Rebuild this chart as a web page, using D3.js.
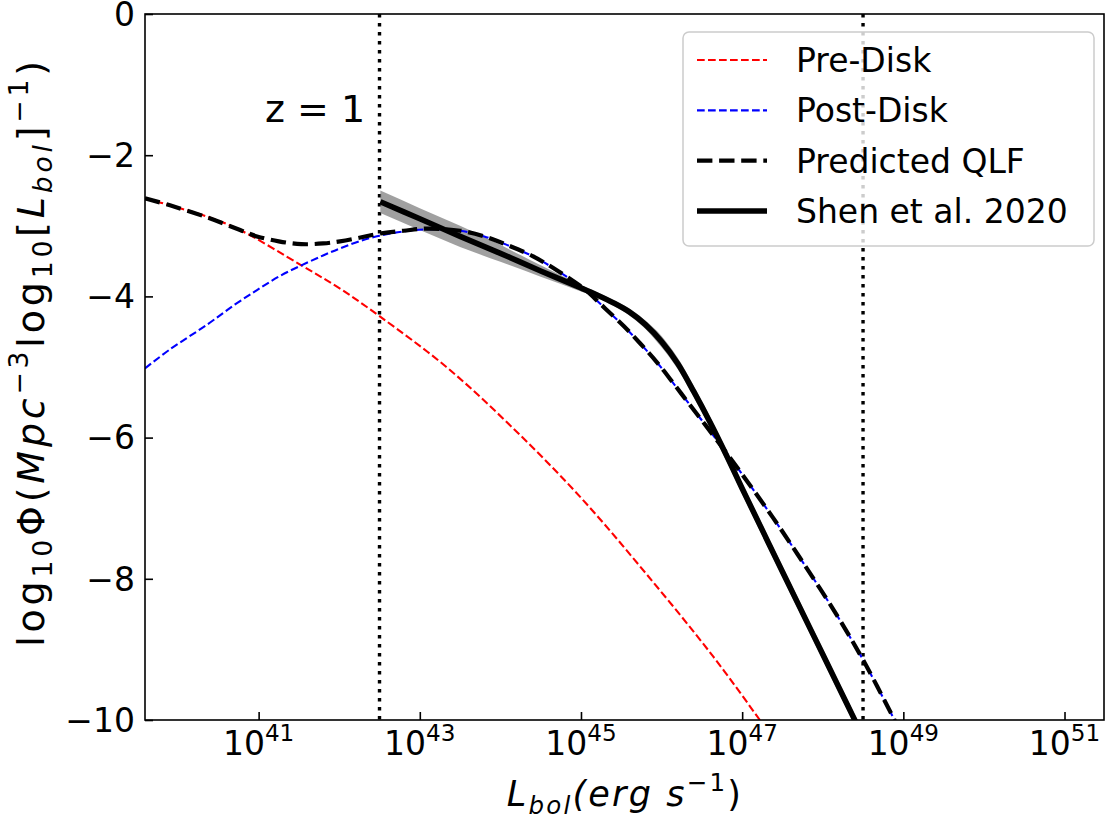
<!DOCTYPE html>
<html>
<head>
<meta charset="utf-8">
<script src="https://cdn.jsdelivr.net/npm/d3@7"></script>
<style>
  body { margin: 0; background: #fff; }
  text { font-family: "DejaVu Sans", sans-serif; fill: #000; }
</style>
</head>
<body>
<div id="chart"></div>
<script>
// values (x = log10 L_bol, y = log10 Phi)
const preDiskL = [39.59, 39.9, 40.36, 40.77, 41.53, 42.01, 42.5, 43.33, 44.16, 44.99, 45.81, 46.64, 47.22, 47.4];
const preDiskPhi = [-2.61, -2.71, -2.87, -3.06, -3.56, -3.89, -4.28, -5.0, -5.87, -6.84, -7.93, -9.10, -10.0, -10.28];

const postDiskL = [39.59, 39.9, 40.36, 40.7, 40.98, 41.25, 41.53, 41.8, 42.01, 42.25, 42.5, 42.8, 43.08, 43.5, 43.8, 44.08, 44.4, 44.7, 45.07, 45.19, 45.3, 45.53, 45.73, 45.94, 46.14, 46.36, 46.55, 46.74, 46.84, 47.05, 47.38, 47.79, 48.21, 48.52, 48.89, 49.0];
const postDiskPhi = [-5.02, -4.75, -4.40, -4.12, -3.91, -3.72, -3.56, -3.42, -3.32, -3.22, -3.14, -3.08, -3.05, -3.07, -3.15, -3.27, -3.43, -3.63, -3.92, -4.05, -4.17, -4.42, -4.66, -4.93, -5.22, -5.55, -5.83, -6.12, -6.27, -6.60, -7.13, -7.83, -8.58, -9.19, -10.0, -10.25];

const qlfL = [39.59, 39.9, 40.36, 40.77, 40.98, 41.25, 41.53, 41.8, 42.01, 42.25, 42.5, 42.8, 43.08, 43.5, 43.8, 44.08, 44.4, 44.7, 45.07, 45.19, 45.3, 45.53, 45.73, 45.94, 46.14, 46.36, 46.55, 46.74, 46.84, 47.05, 47.38, 47.79, 48.21, 48.52, 48.89, 49.0];
const qlfPhi = [-2.61, -2.71, -2.88, -3.06, -3.15, -3.22, -3.26, -3.25, -3.22, -3.17, -3.11, -3.07, -3.04, -3.07, -3.15, -3.27, -3.43, -3.63, -3.92, -4.05, -4.17, -4.42, -4.66, -4.93, -5.22, -5.55, -5.83, -6.12, -6.27, -6.60, -7.13, -7.83, -8.58, -9.19, -10.0, -10.25];

const shenL = [42.51, 43.0, 43.5, 44.0, 44.5, 45.0, 45.2, 45.4, 45.6, 45.8, 46.0, 46.2, 46.4, 46.6, 46.8, 47.0, 47.5, 48.0, 48.5];
const shenPhi = [-2.66, -2.90, -3.15, -3.39, -3.64, -3.88, -3.98, -4.09, -4.22, -4.40, -4.64, -4.95, -5.35, -5.78, -6.24, -6.72, -7.90, -9.07, -10.24];
const shenHi = [-2.50, -2.75, -3.00, -3.27, -3.56, -3.84, -3.94, -4.05, -4.17, -4.34, -4.56, -4.87, -5.27, -5.70, -6.16, -6.64, -7.82, -8.99, -10.16];
const shenLo = [-2.82, -3.06, -3.30, -3.51, -3.72, -3.93, -4.02, -4.13, -4.27, -4.46, -4.72, -5.03, -5.43, -5.86, -6.32, -6.80, -7.98, -9.15, -10.32];

const cutoffs = [42.5, 48.5];
const xTicks = [41, 43, 45, 47, 49, 51];
const yTicks = [0, -2, -4, -6, -8, -10];
const legendLabels = ["Pre-Disk", "Post-Disk", "Predicted QLF", "Shen et al. 2020"];

const W = 1105, H = 819;
const m = { left: 145, right: 1104, top: 14, bottom: 720 };

const svg = d3.select("#chart").append("svg")
  .attr("width", W).attr("height", H)
  .attr("viewBox", `0 0 ${W} ${H}`);

const x = d3.scaleLinear().domain([39.59, 51.49]).range([m.left, m.right]);
const y = d3.scaleLinear().domain([-10, 0]).range([m.bottom, m.top]);

svg.append("defs").append("clipPath").attr("id", "plotClip")
  .append("rect")
  .attr("x", m.left).attr("y", m.top)
  .attr("width", m.right - m.left).attr("height", m.bottom - m.top);

const plot = svg.append("g").attr("clip-path", "url(#plotClip)");

// vertical dotted lines
plot.selectAll("line.cut")
  .data(cutoffs)
  .join("line")
  .attr("class", "cut")
  .attr("x1", d => x(d)).attr("x2", d => x(d))
  .attr("y1", m.top).attr("y2", m.bottom)
  .attr("stroke", "#000")
  .attr("stroke-width", 3.4)
  .attr("stroke-dasharray", "3.4,5.6");

const zip = (xs, ys) => xs.map((v, i) => [v, ys[i]]);
const line = d3.line().x(d => x(d[0])).y(d => y(d[1])).curve(d3.curveCatmullRom.alpha(0.5));

const series = [
  { pts: zip(preDiskL, preDiskPhi), color: "#ff0000", w: 2.1, dash: "7.7,3.3" },
  { pts: zip(postDiskL, postDiskPhi), color: "#0000ff", w: 2.1, dash: "7.7,3.3" },
  { pts: zip(qlfL, qlfPhi), color: "#000", w: 4.2, dash: "15.4,6.7" }
];

// Shen band
const band = shenL.map((v, i) => ({ l: v, hi: shenHi[i], lo: shenLo[i] }));
plot.append("path")
  .datum(band)
  .attr("fill", "#808080")
  .attr("fill-opacity", 0.75)
  .attr("d", d3.area()
    .x(d => x(d.l))
    .y0(d => y(d.lo))
    .y1(d => y(d.hi))
    .curve(d3.curveMonotoneX));

series.forEach(s => {
  plot.append("path")
    .datum(s.pts)
    .attr("fill", "none")
    .attr("stroke", s.color)
    .attr("stroke-width", s.w)
    .attr("stroke-dasharray", s.dash)
    .attr("d", line);
});

plot.append("path")
  .datum(zip(shenL, shenPhi))
  .attr("fill", "none")
  .attr("stroke", "#000")
  .attr("stroke-width", 5.6)
  .attr("d", line);

// axes box
svg.append("rect")
  .attr("x", m.left).attr("y", m.top)
  .attr("width", m.right - m.left).attr("height", m.bottom - m.top)
  .attr("fill", "none").attr("stroke", "#000").attr("stroke-width", 1.6);

const tickFont = 33;

const xAxis = svg.append("g").attr("transform", `translate(0,${m.bottom})`)
  .call(d3.axisBottom(x).tickValues(xTicks).tickSizeInner(-8).tickSizeOuter(0).tickFormat(""));
xAxis.select(".domain").remove();
xAxis.selectAll(".tick line").attr("stroke", "#000").attr("stroke-width", 1.6);

const yAxis = svg.append("g").attr("transform", `translate(${m.left},0)`)
  .call(d3.axisLeft(y).tickValues(yTicks).tickSizeInner(-8).tickSizeOuter(0).tickFormat(""));
yAxis.select(".domain").remove();
yAxis.selectAll(".tick line").attr("stroke", "#000").attr("stroke-width", 1.6);

// mathtext-like helper
function mathText(sel, parts, size) {
  let shift = 0;
  parts.forEach(([t, kind]) => {
    const small = kind.startsWith("sub") || kind.startsWith("sup");
    let target = 0;
    if (kind.startsWith("sub")) target = size * 0.22;
    if (kind.startsWith("sup")) target = -size * 0.42;
    sel.append("tspan")
      .attr("dy", target - shift)
      .style("font-size", (small ? size * 0.7 : size) + "px")
      .style("font-style", kind.endsWith("i") ? "italic" : "normal")
      .text(t);
    shift = target;
  });
}

xTicks.forEach(t => {
  const tx = svg.append("text")
    .attr("x", x(t)).attr("y", 755)
    .attr("text-anchor", "middle")
    .style("font-size", tickFont + "px");
  mathText(tx, [["10", "r"], [String(t), "sup"]], tickFont);
});

yTicks.forEach(t => {
  svg.append("text")
    .attr("x", m.left - 10).attr("y", y(t))
    .attr("dy", "0.36em")
    .attr("text-anchor", "end")
    .style("font-size", tickFont + "px")
    .text(t === 0 ? "0" : "\u2212" + Math.abs(t));
});

// axis labels
const xl = svg.append("text")
  .attr("x", 625).attr("y", 806)
  .attr("text-anchor", "middle")
  .style("font-size", "35px")
  .style("letter-spacing", "2.2px");
mathText(xl, [["L", "i"], ["bol", "subi"], ["(erg s", "i"], ["\u22121", "sup"], [")", "r"]], 35);

const yl = svg.append("text")
  .attr("transform", "translate(44,352) rotate(-90)")
  .attr("text-anchor", "middle")
  .style("font-size", "38px")
  .style("letter-spacing", "3.8px");
mathText(yl, [["log", "r"], ["10", "sub"], ["\u03A6(", "r"], ["Mpc", "i"], ["\u22123", "sup"],
  ["log", "r"], ["10", "sub"], ["[", "r"], ["L", "i"], ["bol", "subi"], ["]", "r"], ["\u22121", "sup"], [")", "r"]], 38);

// z = 1 annotation
svg.append("text")
  .attr("x", 265).attr("y", 122)
  .style("font-size", "38px")
  .text("z = 1");

// legend
const leg = svg.append("g");
leg.append("rect")
  .attr("x", 683).attr("y", 32)
  .attr("width", 411).attr("height", 214)
  .attr("rx", 6)
  .attr("fill", "#fff").attr("fill-opacity", 0.8)
  .attr("stroke", "#cccccc").attr("stroke-width", 1.5);

const legStyles = [
  { color: "#ff0000", w: 2.1, dash: "7.7,3.3" },
  { color: "#0000ff", w: 2.1, dash: "7.7,3.3" },
  { color: "#000", w: 4.2, dash: "15.4,6.7" },
  { color: "#000", w: 5.6, dash: null }
];
const rowY = d3.scalePoint().domain(legendLabels).range([60, 211]);

legendLabels.forEach((lab, i) => {
  const st = legStyles[i];
  leg.append("line")
    .attr("x1", 697).attr("x2", 767)
    .attr("y1", rowY(lab)).attr("y2", rowY(lab))
    .attr("stroke", st.color)
    .attr("stroke-width", st.w)
    .attr("stroke-dasharray", st.dash);
  leg.append("text")
    .attr("x", 796).attr("y", rowY(lab))
    .attr("dy", "0.36em")
    .style("font-size", "33px")
    .text(lab);
});
</script>
</body>
</html>
